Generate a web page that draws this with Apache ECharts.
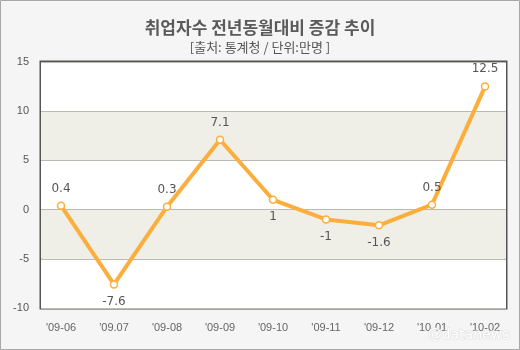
<!DOCTYPE html>
<html><head><meta charset="utf-8">
<script src="https://cdn.jsdelivr.net/npm/echarts@6/dist/echarts.min.js"></script>
<style>html,body{margin:0;padding:0;background:#f5f5f5}#c{width:520px;height:350px}</style>
</head><body><div id="c"></div>
<script>
const categories = ["'09-06", "'09.07", "'09-08", "'09-09", "'09-10", "'09-11", "'09-12", "'10-01", "'10-02"];
const values = [0.4, -7.6, 0.3, 7.1, 1, -1, -1.6, 0.5, 12.5];
const yTicks = [-10, -5, 0, 5, 10, 15];
const titleText = '취업자수 전년동월대비 증감 추이';
const subText = '[출처: 통계청 / 단위:만명 ]';

const labelPlacement = ['top','bottom','top','top','bottom','bottom','bottom','top','top'];
const chart = echarts.init(document.getElementById('c'), null, {renderer:'canvas'});
const yMin = yTicks[0], yMax = yTicks[yTicks.length-1];
chart.setOption({
  backgroundColor: '#f5f5f5',
  animation: false,
  title: [
    {text: titleText, left: 'center', top: 14, textStyle:{fontFamily:'Noto Sans CJK KR', fontSize:17, fontWeight:'bold', color:'#5a5a5a'}},
    {text: subText, left: 'center', top: 36, textStyle:{fontFamily:'Noto Sans CJK KR', fontSize:13, fontWeight:'normal', color:'#555'}}
  ],
  graphic: [
    {type:'rect', shape:{x:0.5,y:0.5,width:519,height:349}, style:{fill:'none', stroke:'#a8a8a8', lineWidth:1}, z:100},
    {type:'text', right: 10, bottom: 7, style:{text:'@datanews', fill:'#ffffff', font:'14px "DejaVu Sans"', stroke:'#e0e0e0', lineWidth:1.2}, z:100}
  ],
  grid: [
    {left:41, right:14, top:62, bottom:42, show:true, borderColor:'#555', borderWidth:3, backgroundColor:'transparent'},
    {left:61, right:35, top:62, bottom:42}
  ],
  xAxis: [
    {gridIndex:0, type:'value', show:false},
    {gridIndex:1, type:'category', data:categories, boundaryGap:false,
     axisLine:{show:false}, axisTick:{show:false}, splitLine:{show:false},
     axisLabel:{margin:14, color:'#666', fontFamily:'Liberation Sans', fontSize:11}}
  ],
  yAxis: [
    {gridIndex:0, type:'value', min:yMin, max:yMax, interval:5, z:0,
     axisLine:{show:false}, axisTick:{show:false},
     axisLabel:{margin:12, color:'#555', fontFamily:'Liberation Sans', fontSize:11},
     splitLine:{show:true, lineStyle:{color:'#bbbbb4', width:1}},
     splitArea:{show:true, areaStyle:{color:['#ffffff','#efefe7']}}},
    {gridIndex:1, type:'value', min:yMin, max:yMax, interval:5, show:false, splitLine:{show:false}}
  ],
  series: [{
    type:'line', xAxisIndex:1, yAxisIndex:1, z:10,
    data: values.map((v,i)=>({value:v, label:{position:labelPlacement[i]}})),
    lineStyle:{color:'#fbae3c', width:4},
    itemStyle:{color:'#ffffff', borderColor:'#fbae3c', borderWidth:1.5},
    symbol:'circle', symbolSize:7,
    label:{show:true, distance:7, color:'#555', fontFamily:'DejaVu Sans', fontSize:12}
  }]
});
</script></body></html>
